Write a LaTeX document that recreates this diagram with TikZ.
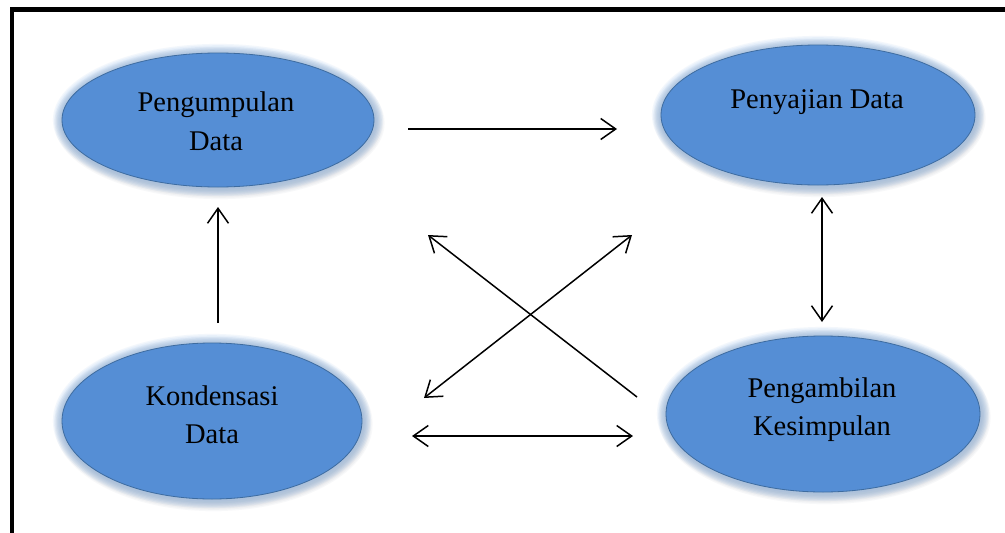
\documentclass[tikz,border=0pt]{standalone}
\usepackage{fontspec}
\setmainfont{Liberation Serif}
\usetikzlibrary{shapes.geometric,arrows.meta}
\definecolor{fillblue}{RGB}{85,142,213}
\definecolor{edgeblue}{RGB}{62,108,160}
\definecolor{glowblue}{RGB}{150,190,235}
\definecolor{shadowgray}{RGB}{110,120,140}
\tikzset{
  blob/.style={ellipse, fill=fillblue, draw=edgeblue, line width=0.8pt, inner sep=0pt},
  lbl/.style={anchor=base, inner sep=0pt, font=\fontsize{28.5}{34}\selectfont},
  conn/.style={line width=1.5pt, black},
  tip/.style={{Straight Barb[length=15pt,width=21pt,line width=1.5pt]}},
}
\newcommand{\glowell}[4]{%
  \foreach \k in {1,...,7}{%
    \fill[shadowgray, opacity=0.05] (#1+1.5,#2+3) ellipse [x radius=#3+\k*1.3, y radius=#4+\k*1.3];
    \fill[glowblue, opacity=0.11] (#1,#2) ellipse [x radius=#3+\k*1.3, y radius=#4+\k*1.3];
  }%
}
\begin{document}
\begin{tikzpicture}[x=1pt,y=-1pt]
\useasboundingbox (0,0) rectangle (1005,533);
\clip (0,0) rectangle (1005,533);
\fill[white] (0,0) rectangle (1005,533);
% frame
\draw[line width=4.5pt] (12,560) -- (12,9.5) -- (1030,9.5);
% glows
\glowell{218}{120}{156}{67}
\glowell{818}{115}{157}{70}
\glowell{212}{421}{150}{78}
\glowell{823}{414}{157}{78}
% ellipses
\node[blob, minimum width=312pt, minimum height=134pt] (pd) at (218,120) {};
\node[blob, minimum width=314pt, minimum height=140pt] (sd) at (818,115) {};
\node[blob, minimum width=300pt, minimum height=156pt] (kd) at (212,421) {};
\node[blob, minimum width=314pt, minimum height=156pt] (pk) at (823,414) {};
% labels
\node[lbl] (pd1) at (216,111) {Pengumpulan};
\node[lbl] (pd2) at (216,150) {Data};
\node[lbl] (sd1) at (817,108) {Penyajian Data};
\node[lbl] (kd1) at (212,405) {Kondensasi};
\node[lbl] (kd2) at (212,443) {Data};
\node[lbl] (pk1) at (822,397) {Pengambilan};
\node[lbl] (pk2) at (822,435) {Kesimpulan};
% connector end points
\coordinate (a1) at (408,129);
\coordinate (a2) at (617,129);
\coordinate (b1) at (218,323);
\coordinate (b2) at (218,207);
\coordinate (c1) at (822,197);
\coordinate (c2) at (822,322);
\coordinate (d1) at (412,436);
\coordinate (d2) at (633,436);
\coordinate (e1) at (637,397);
\coordinate (e2) at (428,235);
\coordinate (f1) at (632,235);
\coordinate (f2) at (424,398);
% connectors
\draw[conn, -{Straight Barb[length=15pt,width=21pt,line width=1.5pt]}] (a1) -- (a2);
\draw[conn, -{Straight Barb[length=15pt,width=21pt,line width=1.5pt]}] (b1) -- (b2);
\draw[conn, {Straight Barb[length=15pt,width=21pt,line width=1.5pt]}-{Straight Barb[length=15pt,width=21pt,line width=1.5pt]}] (c1) -- (c2);
\draw[conn, {Straight Barb[length=15pt,width=21pt,line width=1.5pt]}-{Straight Barb[length=15pt,width=21pt,line width=1.5pt]}] (d1) -- (d2);
\draw[conn, -{Straight Barb[length=15pt,width=21pt,line width=1.5pt]}] (e1) -- (e2);
\draw[conn, {Straight Barb[length=15pt,width=21pt,line width=1.5pt]}-{Straight Barb[length=15pt,width=21pt,line width=1.5pt]}] (f1) -- (f2);
\end{tikzpicture}
\end{document}
